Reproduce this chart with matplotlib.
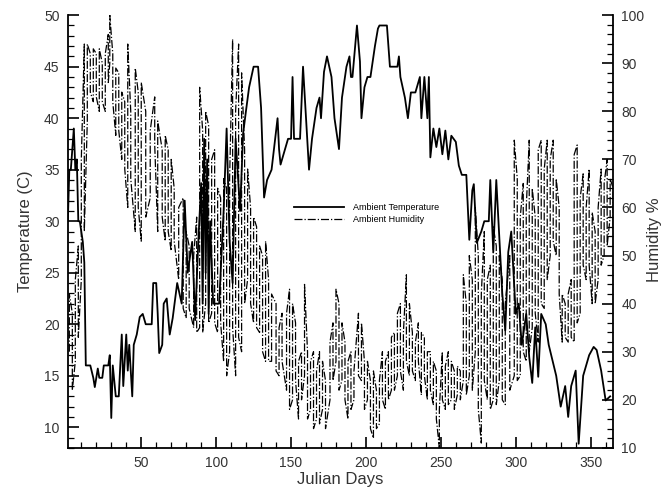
import matplotlib
matplotlib.use("Agg")
import matplotlib.pyplot as plt
from matplotlib.ticker import MultipleLocator

plt.rcParams["font.family"] = ["Liberation Sans", "DejaVu Sans"]

# daily ambient temperature (C)
temp_days = [1, 2, 3, 4, 5, 6, 7, 8, 9, 10, 11, 12, 13, 16, 18, 19, 21, 22, 24, 25,
             28, 29, 30, 31, 33, 35, 37, 38, 40, 41, 42, 44, 45, 47, 49, 51, 53, 57, 58, 60,
             61, 62, 64, 65, 67, 69, 71, 74, 77, 79, 81, 84, 86, 88, 90, 91, 92, 93, 94, 95,
             96, 98, 102, 105, 107, 109, 111, 113, 116, 118, 120, 122, 125, 128, 130, 132, 134, 137, 139, 141,
             142, 143, 146, 148, 150, 151, 152, 154, 156, 158, 160, 162, 164, 167, 169, 170, 172, 174, 177, 179,
             181, 182, 184, 187, 189, 190, 191, 194, 196, 197, 199, 201, 203, 206, 208, 209, 214, 216, 221, 222,
             223, 226, 228, 230, 233, 236, 237, 239, 241, 242, 243, 245, 247, 249, 251, 253, 255, 257, 260, 262,
             264, 267, 269, 271, 272, 274, 277, 279, 282, 283, 285, 287, 291, 293, 295, 297, 300, 302, 304, 307,
             309, 311, 313, 315, 317, 320, 322, 327, 330, 333, 335, 337, 340, 342, 345, 349, 352, 354, 357, 360,
             363]
temp_vals = [30, 35, 35, 37, 39, 35, 36, 30, 30, 29, 28, 26, 16, 16, 14.8, 13.9, 15.7, 14.8, 14.8, 16,
             16, 17, 10.9, 16, 13, 13, 19, 14, 19, 15.5, 18, 13, 18, 19, 20.7, 21, 20, 20, 24, 24,
             21, 17.2, 18, 22, 22.5, 19, 20.6, 24, 22, 32, 25, 28, 20.4, 27.7, 33.7, 22, 38, 25, 36, 21,
             30, 22, 22, 31, 39, 28, 24, 38, 31, 38.5, 40.8, 43, 45, 45, 41, 32.3, 34, 35, 37.5, 40,
             37, 35.5, 37, 38, 38, 44, 38, 38, 38, 45, 40, 35, 38, 41, 42, 40, 44.5, 46, 44, 40,
             38, 37, 42, 45, 46, 44, 44, 49, 45.5, 40, 43, 44, 44, 47, 48.7, 49, 49, 45, 45, 46,
             44, 42, 40, 42.5, 42.5, 44, 40, 44, 40, 44, 36.2, 39, 37.2, 39, 36.5, 38.8, 36, 38.3, 37.7, 35.4,
             34.5, 34.5, 28.2, 33, 33.6, 27.9, 29, 30, 30, 34, 27, 34, 23, 19.4, 27, 29, 21, 22, 18, 21,
             16.8, 14.3, 19.7, 14.9, 21, 20, 18, 15, 12, 14, 11, 14, 15.5, 8.4, 15, 17, 17.8, 17.5, 15.5, 12.6,
             13]

# humidity readings: daily minimum and maximum (%) on the sampled days
hum_days = [2, 4, 6, 8, 10, 12, 14, 16, 18, 20, 22, 24, 26, 28, 29, 31, 33, 35, 37, 39,
            41, 43, 46, 48, 50, 53, 56, 59, 61, 64, 66, 68, 70, 72, 75, 78, 80, 82, 85, 87,
            89, 91, 93, 95, 97, 99, 101, 103, 105, 107, 109, 111, 113, 115, 117, 119, 121, 123, 125, 127,
            129, 131, 133, 135, 137, 140, 142, 144, 147, 149, 151, 153, 155, 157, 159, 161, 163, 165, 167, 169,
            171, 173, 176, 178, 180, 182, 184, 186, 188, 190, 192, 195, 197, 199, 201, 203, 205, 207, 209, 211,
            213, 215, 217, 219, 221, 223, 225, 227, 229, 231, 233, 235, 237, 239, 241, 243, 245, 247, 249, 251,
            253, 255, 257, 259, 261, 263, 265, 267, 269, 271, 273, 275, 277, 279, 281, 283, 285, 287, 289, 291,
            293, 296, 299, 301, 303, 305, 307, 309, 311, 313, 315, 317, 319, 321, 323, 325, 327, 329, 331, 333,
            335, 337, 339, 341, 343, 345, 347, 349, 351, 353, 355, 357, 359, 361, 363, 365]
hum_low = [30, 22, 28, 33, 45, 55, 78, 84, 82, 83, 80, 82, 80, 86, 90, 82, 75, 76, 70, 68,
           60, 66, 55, 60, 53, 58, 62, 73, 55, 58, 53, 55, 51, 53, 45, 39, 37, 39, 35, 34,
           35, 34, 40, 36, 38, 36, 34, 36, 28, 25, 30, 35, 25, 33, 30, 40, 45, 40, 36, 35,
           34, 30, 28, 28, 28, 26, 25, 28, 22, 18, 20, 24, 16, 20, 25, 16, 18, 14, 16, 15,
           18, 14, 20, 24, 28, 22, 24, 20, 16, 18, 20, 25, 24, 18, 20, 14, 12, 14, 15, 20,
           18, 20, 22, 22, 25, 26, 22, 28, 25, 26, 24, 28, 21, 25, 20, 22, 19, 16, 10, 20,
           18, 19, 20, 18, 21, 20, 24, 21, 25, 22, 30, 18, 11, 24, 20, 18, 20, 19, 24, 20,
           19, 22, 25, 24, 25, 30, 28, 30, 35, 38, 32, 40, 39, 45, 50, 53, 50, 42, 32, 33,
           32, 33, 32, 36, 38, 48, 45, 48, 40, 40, 45, 48, 50, 52, 58, 55]
hum_high = [42, 38, 45, 52, 70, 94, 94, 92, 93, 92, 93, 90, 92, 96, 100, 92, 89, 88, 84, 82,
            94, 80, 89, 84, 86, 80, 76, 83, 78, 72, 75, 72, 70, 64, 60, 62, 55, 52, 50, 58,
            85, 76, 80, 77, 70, 72, 64, 62, 66, 64, 66, 95, 80, 94, 88, 72, 68, 60, 58, 56,
            52, 50, 53, 45, 42, 40, 35, 38, 38, 43, 40, 36, 28, 30, 44, 30, 28, 30, 26, 30,
            28, 24, 32, 36, 43, 40, 36, 32, 28, 30, 26, 38, 36, 28, 28, 24, 26, 22, 24, 30,
            28, 30, 33, 34, 38, 40, 34, 46, 40, 34, 32, 36, 34, 33, 30, 30, 28, 26, 18, 30,
            27, 30, 28, 26, 27, 26, 46, 40, 50, 45, 60, 50, 42, 55, 45, 48, 56, 52, 50, 45,
            40, 50, 74, 66, 58, 65, 60, 74, 64, 58, 72, 74, 68, 74, 70, 74, 66, 60, 42, 40,
            42, 45, 71, 73, 62, 67, 60, 68, 59, 55, 60, 68, 65, 70, 66, 64]

# each sampled day is drawn as a vertical swing between its min and max
hum_x, hum_y = [], []
for i, d in enumerate(hum_days):
    pair = (hum_low[i], hum_high[i]) if i % 2 == 0 else (hum_high[i], hum_low[i])
    hum_x += [d, d]
    hum_y += list(pair)

fig = plt.figure(figsize=(6.65, 4.9), dpi=100)
ax = fig.add_axes([0.102, 0.086, 0.82, 0.883])
ax2 = ax.twinx()

t_line, = ax.plot(temp_days, temp_vals, color="black", lw=1.3, label="Ambient Temperature")
h_line, = ax2.plot(hum_x, hum_y, color="black", lw=0.9, ls="-.", label="Ambient Humidity")

ax.set_xlim(1, 365)
ax.set_ylim(8, 50)
ax2.set_ylim(10, 100)

ax.xaxis.set_major_locator(MultipleLocator(50))
ax.xaxis.set_minor_locator(MultipleLocator(10))
ax.yaxis.set_minor_locator(MultipleLocator(1))
ax.set_yticks(range(10, 51, 5))
ax2.yaxis.set_major_locator(MultipleLocator(10))
ax2.yaxis.set_minor_locator(MultipleLocator(2))

for a in (ax, ax2):
    a.spines["top"].set_visible(False)
    for s in a.spines.values():
        s.set_linewidth(1.3)
ax.spines["right"].set_visible(False)
ax2.spines["left"].set_visible(False)
ax2.spines["bottom"].set_visible(False)

ax.tick_params(axis="both", which="major", direction="in", length=8, width=1.2,
               labelsize=10, labelcolor="#333333", pad=6)
ax.tick_params(axis="both", which="minor", direction="in", length=4, width=0.9)
ax.tick_params(axis="y", right=False)
ax.tick_params(axis="x", top=False)
ax2.tick_params(axis="y", which="major", direction="in", length=8, width=1.2,
                labelsize=10, labelcolor="#333333", pad=6)
ax2.tick_params(axis="y", which="minor", direction="in", length=4, width=0.9)

ax.set_xlabel("Julian Days", fontsize=12, color="#333333", labelpad=1)
ax.set_ylabel("Temperature (C)", fontsize=12, color="#333333", labelpad=8)
fig.text(0.984, 0.51, "Humidity %", rotation=90, ha="center", va="center",
         fontsize=12, color="#333333")

ax.legend(handles=[t_line, h_line], loc="upper left", bbox_to_anchor=(0.40, 0.585),
          frameon=False, fontsize=6.5, handlelength=5.5, labelspacing=0.35,
          handletextpad=1.0)

fig.savefig("out.png", dpi=100)
